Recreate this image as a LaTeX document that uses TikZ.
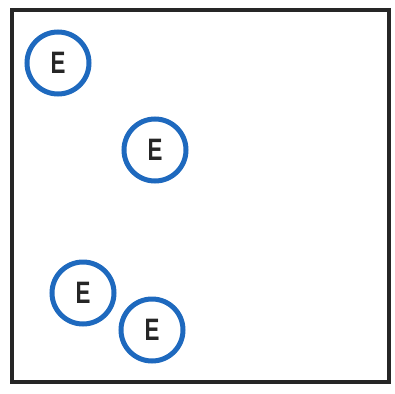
\documentclass[tikz,border=0pt]{standalone}
\usepackage{fontspec}
\setsansfont{Liberation Sans}
\usepackage{xcolor}
\usepackage{graphicx}
\usepackage{tikz}
\usetikzlibrary{positioning}

\definecolor{markblue}{RGB}{30,105,190}
\newcommand{\narrowE}{\scalebox{0.72}[1]{E}}

\begin{document}
\begin{tikzpicture}[
  x=1pt, y=-1pt,
  every node/.style={font=\sffamily\bfseries\fontsize{31}{31}\selectfont},
  emark/.style={draw=markblue, circle, line width=5pt, minimum size=62pt,
    inner sep=0pt, text=black!85},
  frame/.style={draw=black!85, line width=4.5pt}
]
\useasboundingbox (0,0) rectangle (395,393);
\draw[frame] (12,10) rectangle (389,382);

\node[emark] (e1) at (58,63) {\narrowE};
\node[emark] (e2) at (155,150) {\narrowE};
\node[emark] (e3) at (83,293) {\narrowE};
\node[emark] (e4) at (152,330) {\narrowE};
\end{tikzpicture}
\end{document}
